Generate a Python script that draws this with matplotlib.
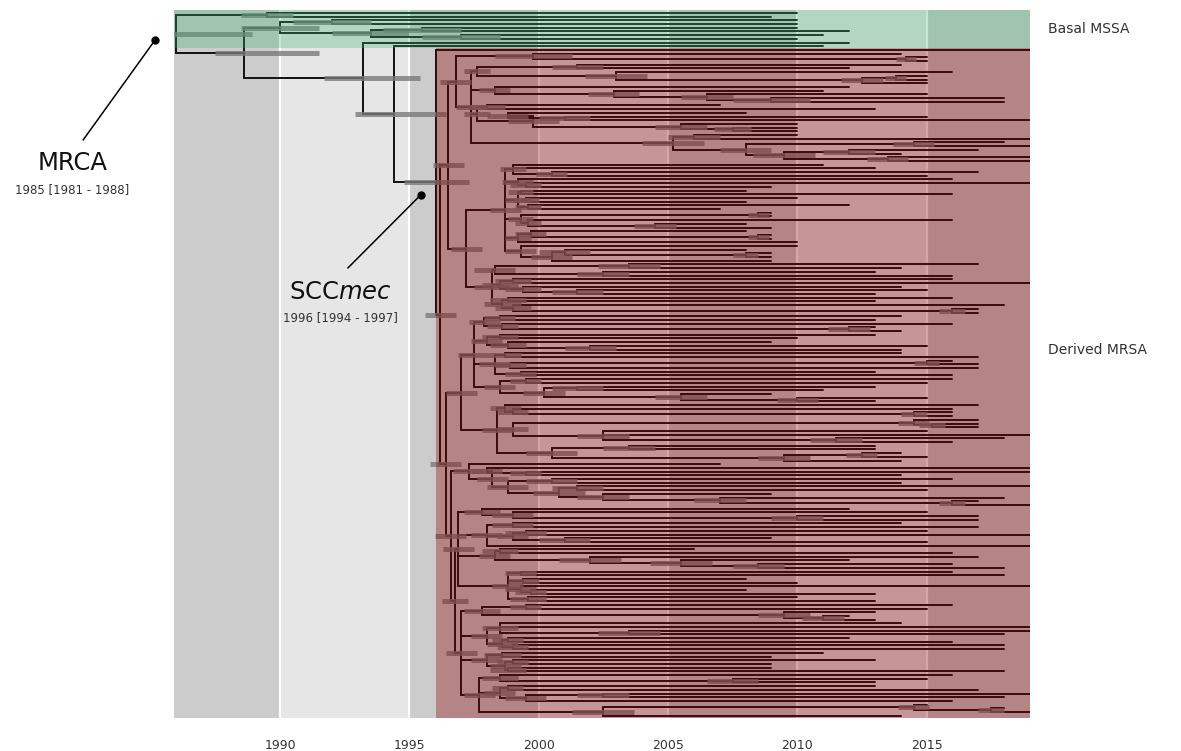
import matplotlib.pyplot as plt
from matplotlib.patches import Rectangle

# dated backbone nodes (decimal years) with their 95% HPD intervals
root_date = 1985.97
root_hpd = (1981.4, 1988.9)
scc_date = 1996.05
scc_hpd = (1994.8, 1997.3)
x_max = 2019.0

# sub-clades of the derived MRSA lineage, top to bottom
# tips are sampling years, internal labels are "date", "date/halfwidth" or "date/lo/hi"
s1 = "(2014,(2015,2015)2014.2/0.4)1999.8/1.5"
s2 = ("(((2014,2012)2001.5/1.0,(2016,((2015,2015)2013.8/0.4,2015)2012.5/0.8)2003.0/1.2)1997.6/0.5,"
      "(2012,(2011,(2015,(2018,2018)2009.0/1.5)2006.5/1.0)2002.9/1.0)1998.3/0.6,"
      "((2007,2013)1998.0/0.7,((2008,(2015,2019)2001.0/1.0)1998.8/0.8,(2010,(2010,2010)2007.5/0.7)2005.5/1.0)1999.8/1.0)1997.6/0.5,"
      "((2010,2019)2006.0/1.0,((2018,2019)2014.5/0.8,((2017,2014)2012.0/1.0,(2019,2019)2013.5/0.8)2009.5/1.2)2008.0/1.0)2005.2/1.2)1997.4/0.6")
s3 = ("((2011,2013,(2017,2015)2000.5/0.6)1999.0/0.5,(2016,(2019,2009)1999.5/0.6)1999.2/0.6,"
      "((2008,2016)1999.3/0.5,(2010,2008)1999.5/0.5,(2012,2007)1999.6/0.5)1999.2/0.5,"
      "((2009,2009)2008.5/0.4,(2016,(2008,2009)2004.5/0.8)1999.6/0.5)1999.3/0.5,"
      "((2008,(2009,2009)2008.5/0.4)1999.7/0.6,2010)1999.2/0.5,"
      "(2010,((2008,(2009,2009)2008.0/0.5)2001.0/1.0,2009)2000.5/0.8)1999.3/0.6)1998.7/0.6")
s4 = ("(((2017,2014)2003.5/1.2,(2013,2016)2002.5/1.0)1998.3/0.8,"
      "((2016,2019)1999.0/0.7,(2014,(2015,2013)2001.5/1.0)1999.4/0.7)1998.5/0.7,"
      "((2016,2013)1998.8/0.7,(2018,(2017,2017)2016.0/0.5)1999.0/0.7)1998.6/0.7)1998.2/0.7")
s5 = ("(((2014,2013)1998.5/0.6,(2016,(2013,2014)2012.0/0.8)1998.6/0.6)1997.9/0.6,"
      "((2013,2010)1998.5/0.7,(2009,(2015,2014)2002.0/1.0)1998.8/0.7)1998.0/0.6,"
      "((2014,2017)1998.7/0.6,((2016,2017)2015.0/0.5,2017)1998.9/0.6,(2013,2016)1999.3/0.6)1998.3/0.6,"
      "((2016,2015)1999.5/0.6,((2013,2011)2001.5/1.0,(2009,(2015,2013)2010.0/0.8)2005.5/1.0)2000.2/0.8)1998.5/0.6)1997.5/0.6")
s6 = ("((2017,(2016,(2016,2016)2014.5/0.5)1999.0/0.6)1998.7/0.6,"
      "((2017,(2017,2017)2015.2/0.5)2014.5/0.6,(2015,2019,(2018,2016)2011.5/1.0)2002.5/1.0)1999.0/0.6,"
      "((2013,2013)2003.5/1.0,((2014,2015)2012.5/0.6,2014)2009.5/1.0)2000.5/1.0)1998.4/0.6")
s7 = ("(2007,((2019,(2019,2014)1999.5/0.6)1998.0/0.6,((2016,2014)2000.5/1.0,((2019,2015)2001.5/1.0,"
      "(2009,(2018,(2017,2019)2016.0/0.5)2007.0/1.0)2002.5/1.0)2000.8/1.0)1998.8/0.8)1998.2/0.6)1997.3/0.6")
s8 = ("((2012,(2015,(2017,2017)2010.0/1.0)1999.0/0.8)1997.8/0.7,"
      "((2014,2017)1999.0/0.8,((2015,2019)1999.5/0.8,(2009,2015)2001.0/1.0)1999.0/0.6,2019)1998.0/0.6,"
      "((2006,2016)1998.5/0.7,(2017,(2012,(2016,2018)2008.5/1.0)2005.5/1.2)2002.0/1.2)1998.3/0.6,"
      "((2016,2018)1999.3/0.6,(2008,2010)1999.4/0.6,(2019,(2008,2013)1999.7/0.6)1999.3/0.6,(2010,2013)1999.6/0.7)1998.8/0.6)1996.9/0.6")
s9 = ("(((2016,2015)1999.5/0.6,(2013,(2012,2013)2011.0/0.8)2009.5/1.0)1997.8/0.7,"
      "((2014,2019,(2019,2018)2003.5/1.2)1998.5/0.7,((2012,2016)1998.8/0.6,(2018,2018)1999.0/0.6)1998.6/0.6)1998.0/0.6,"
      "((2011,2009)1998.6/0.7,((2013,2009)1999.0/0.6,(2009,2018)1998.8/0.7)1998.7/0.6)1998.0/0.6,"
      "((2016,(2015,2013)2007.5/1.0)1998.5/0.7,((2013,2017)1998.8/0.6,((2019,2018)2002.5/1.0,2016)1999.5/0.8)1998.5/0.6,"
      "((2015,(2018,2019)2017.5/0.5)2014.5/0.6,2014)2002.5/1.2)1997.7/0.6)1997.0/0.6")

mrsa = (f"(2019,((({s1},{s2})1996.8/0.6,({s3},{s4})1997.2/0.6)1996.5/0.6,"
        f"(({s5},{s6})1997.0/0.6,({s7},({s8},{s9})1996.75/0.5)1996.6/0.6)1996.4/0.6)1996.2/0.6)"
        f"{scc_date}/{scc_hpd[0]}/{scc_hpd[1]}")

# basal MSSA ladder leading to the MRSA clade
tree_text = ("((2010,2009)1989.5/1.0,(((2010,2010)1992.0/1.5,((2010,2012)1995.5/1.5,(2011,2010)1997.0/1.5)1993.5/1.5)1990.0/1.5,"
             f"(2012,(2011,{mrsa})1994.4/1992.9/1996.4)1993.2/1991.7/1995.4)1988.6/1987.5/1991.5)"
             f"{root_date}/{root_hpd[0]}/{root_hpd[1]}")

year_ticks = [1990, 1995, 2000, 2005, 2010, 2015]
stripe_edges = [1985, 1990, 1995, 2000, 2005, 2010, 2015, 2020]


def parse_newick(text):
    text = "".join(text.split())
    pos = 0

    def node():
        nonlocal pos
        kids = []
        if text[pos] == "(":
            pos += 1
            while True:
                kids.append(node())
                if text[pos] == ",":
                    pos += 1
                else:
                    pos += 1
                    break
        start = pos
        while pos < len(text) and text[pos] not in ",()":
            pos += 1
        vals = [float(v) for v in text[start:pos].split("/")]
        hpd = None
        if len(vals) == 2:
            hpd = (vals[0] - vals[1], vals[0] + vals[1])
        elif len(vals) == 3:
            hpd = (vals[1], vals[2])
        return {"date": vals[0], "hpd": hpd, "kids": kids}

    return node()


def layout(n, tips):
    if not n["kids"]:
        n["y"] = len(tips)
        tips.append(n)
    else:
        for k in n["kids"]:
            layout(k, tips)
        n["y"] = (n["kids"][0]["y"] + n["kids"][-1]["y"]) / 2


def collect(n, parent_date, h, v, bars):
    if parent_date is not None:
        h.append((n["y"], parent_date, n["date"]))
    if n["kids"]:
        v.append((n["date"], n["kids"][0]["y"], n["kids"][-1]["y"]))
    if n["hpd"]:
        bars.append((n["y"], n["hpd"][0], n["hpd"][1]))
    for k in n["kids"]:
        collect(k, n["date"], h, v, bars)


def first_tip(n):
    while n["kids"]:
        n = n["kids"][0]
    return n["y"]


def find_node(n, date):
    if abs(n["date"] - date) < 1e-9 and n["kids"]:
        return n
    for k in n["kids"]:
        r = find_node(k, date)
        if r:
            return r
    return None


tree = parse_newick(tree_text)
tips = []
layout(tree, tips)
h, v, bars = [], [], []
collect(tree, None, h, v, bars)

n_rows = len(tips)
y_top, y_bot = -0.8, n_rows - 0.4
scc_node = find_node(tree, scc_date)
split = first_tip(scc_node) - 0.5

fig = plt.figure(figsize=(11.81, 7.51), dpi=100)
ax = fig.add_axes([174 / 1181, 33 / 751, 856 / 1181, 708 / 751])
ax.set_xlim(1985.9, x_max)
ax.set_ylim(y_bot, y_top)

# alternating 5-year background stripes
for i in range(len(stripe_edges) - 1):
    col = "#cccccc" if i % 2 == 0 else "#e6e6e6"
    ax.axvspan(stripe_edges[i], stripe_edges[i + 1], color=col, lw=0, zorder=0)
for yr in year_ticks:
    ax.axvline(yr, color="white", lw=1.6, zorder=0.5)

# branches and HPD bars
ax.hlines([s[0] for s in h], [s[1] for s in h], [s[2] for s in h],
          color="#111111", lw=1.4, zorder=2, capstyle="round")
ax.vlines([s[0] for s in v], [s[1] for s in v], [s[2] for s in v],
          color="#111111", lw=1.4, zorder=2, capstyle="round")
ax.hlines([b[0] for b in bars], [b[1] for b in bars], [b[2] for b in bars],
          color="#7a7a7a", lw=3.6, alpha=0.8, zorder=3)

# clade shading
ax.add_patch(Rectangle((1985.9, y_top), x_max - 1985.9, split - y_top,
                       color="mediumseagreen", alpha=0.3, lw=0, zorder=4))
ax.add_patch(Rectangle((scc_node["date"], split), x_max - scc_node["date"], y_bot - split,
                       color="darkred", alpha=0.35, lw=0, zorder=4))

ax.set_xticks(year_ticks)
ax.set_xticklabels([str(y) for y in year_ticks])
ax.tick_params(axis="x", length=0, pad=15, labelsize=9, labelcolor="#333333")
ax.set_yticks([])
for sp in ax.spines.values():
    sp.set_visible(False)

# clade labels on the right
yx = ax.get_yaxis_transform()
ax.text(1.021, (y_top + split) / 2, "Basal MSSA", transform=yx, ha="left", va="center",
        fontsize=10, color="#333333")
ax.text(1.021, 91, "Derived MRSA", transform=yx, ha="left", va="center",
        fontsize=10, color="#333333")

# node callouts
root_lbl = f"{int(root_date)} [{int(root_hpd[0])} - {int(root_hpd[1])}]"
scc_lbl = f"{int(scc_date)} [{int(scc_hpd[0])} - {int(scc_hpd[1])}]"

ax.plot([1985.17], [7.3], "o", color="black", ms=5, clip_on=False, zorder=6)
ax.plot([1982.39, 1985.17], [34.3, 7.3], color="black", lw=1.1, clip_on=False, zorder=6)
ax.text(1981.97, 40.5, "MRCA", ha="center", va="center", fontsize=17.5, color="#111111")
ax.text(1981.97, 47.8, root_lbl, ha="center", va="center", fontsize=8.5, color="#333333")

ax.plot([1995.44], [49.2], "o", color="black", ms=5, zorder=6)
ax.plot([1992.63, 1995.44], [68.9, 49.2], color="black", lw=1.1, zorder=6)
ax.text(1992.32, 75.4, r"SCC$\mathit{mec}$", ha="center", va="center", fontsize=17.5,
        color="#111111", zorder=6)
ax.text(1992.32, 82.4, scc_lbl, ha="center", va="center", fontsize=8.5, color="#333333", zorder=6)

fig.savefig("out.png", dpi=100, facecolor="white")
